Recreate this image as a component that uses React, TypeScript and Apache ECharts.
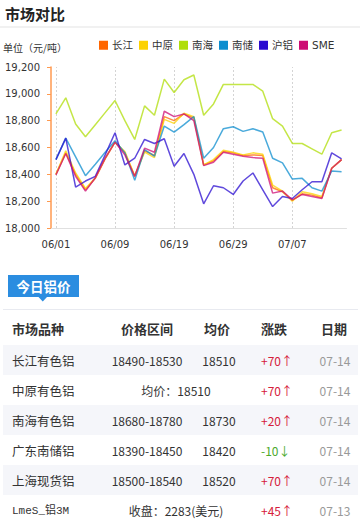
import React, { useEffect, useRef } from 'react';
import * as echarts from 'echarts';

const dates = [
  '06/01', '06/02', '06/03', '06/04', '06/05', '06/08', '06/09', '06/11', '06/12', '06/15',
  '06/16', '06/18', '06/19', '06/22', '06/23', '06/24', '06/26', '06/28', '06/29', '06/30',
  '07/01', '07/02', '07/03', '07/06', '07/07', '07/08', '07/09', '07/10', '07/13', '07/14',
];

const seriesNames = ['长江', '中原', '南海', '南储', '沪铝', 'SME'];
const seriesColors = ['#FF6600', '#FCD202', '#B0DE09', '#0D8ECF', '#2A0CD0', '#CD0D74'];

const changjiang = [18400, 18560, 18400, 18285, 18370, 18515, 18640, 18560, 18385, 18575, 18540, 18830, 18800, 18850, 18820, 18470, 18500, 18570, 18560, 18540, 18545, 18540, 18300, 18270, 18205, 18255, 18245, 18225, 18445, 18510];
const zhongyuan = [18400, 18575, 18410, 18295, 18375, 18520, 18640, 18570, 18390, 18565, 18525, 18810, 18780, 18855, 18830, 18470, 18510, 18580, 18565, 18545, 18560, 18550, 18320, 18275, 18200, 18270, 18255, 18235, 18445, 18510];
const nanhai = [18850, 18970, 18775, 18680, 18770, 18860, 18950, 18800, 18660, 18910, 18840, 19110, 19010, 19105, 19140, 18840, 18925, 19070, 19070, 19070, 19070, 19020, 18815, 18760, 18630, 18630, 18590, 18550, 18710, 18730];
const nanchu = [18510, 18670, 18530, 18390, 18475, 18565, 18650, 18560, 18355, 18585, 18535, 18760, 18715, 18770, 18830, 18520, 18600, 18740, 18755, 18720, 18740, 18715, 18520, 18485, 18365, 18370, 18300, 18275, 18425, 18420];
const hulv = [18510, 18670, 18305, 18350, 18385, 18545, 18710, 18470, 18520, 18660, 18630, 18665, 18460, 18555, 18400, 18180, 18315, 18300, 18250, 18350, 18410, 18285, 18160, 18235, 18220, 18285, 18345, 18345, 18560, 18515];
const sme = [18395, 18555, 18385, 18275, 18375, 18520, 18640, 18545, 18385, 18595, 18565, 18870, 18830, 18850, 18800, 18465, 18490, 18565, 18550, 18535, 18525, 18520, 18260, 18275, 18210, 18250, 18235, 18220, 18445, 18510];
const seriesValues = [changjiang, zhongyuan, nanhai, nanchu, hulv, sme];

const yMin = 18000;
const yMax = 19200;
const yStep = 200;

const tableHeader = ['市场品种', '价格区间', '均价', '涨跌', '日期'];
const rowNames = ['长江有色铝', '中原有色铝', '南海有色铝', '广东南储铝', '上海现货铝', 'LmeS_铝3M'];
const rowRanges = ['18490-18530', '', '18680-18780', '18390-18450', '18500-18540', ''];
const rowAvgs = ['18510', '', '18730', '18420', '18520', ''];
const rowMerged = ['', '均价：18510', '', '', '', '收盘：2283(美元)'];
const rowChanges = [70, 70, 20, -10, 70, 45];
const rowDates = ['07-14', '07-14', '07-14', '07-14', '07-14', '07-13'];

const CJK = '"Noto Sans CJK SC", sans-serif';

function buildGraphic() {
  const els: any[] = [];
  els.push({
    type: 'text', x: 5, y: 13,
    style: { text: '市场对比', font: `bold 15px ${CJK}`, fill: '#222', textAlign: 'left', textVerticalAlign: 'middle' },
  });
  els.push({ type: 'rect', shape: { x: 0, y: 26, width: 360, height: 2 }, style: { fill: '#f1f1f1' } });
  els.push({
    type: 'text', x: 3, y: 47,
    style: { text: '单位（元/吨）', font: `10px ${CJK}`, fill: '#333', textAlign: 'left', textVerticalAlign: 'middle' },
  });
  // tab
  els.push({ type: 'rect', shape: { x: 8, y: 275, width: 71, height: 22 }, style: { fill: '#2b8de0' } });
  els.push({ type: 'polygon', shape: { points: [[38.5, 297], [47, 297], [42.75, 301.5]] }, style: { fill: '#2b8de0' } });
  els.push({
    type: 'text', x: 43.5, y: 286,
    style: { text: '今日铝价', font: `bold 13.5px ${CJK}`, fill: '#fff', textAlign: 'center', textVerticalAlign: 'middle' },
  });
  els.push({ type: 'rect', shape: { x: 3, y: 309, width: 355, height: 1 }, style: { fill: '#e8eaf0' } });

  const headerY = 328;
  const colX = [12, 147, 217, 274, 334];
  tableHeader.forEach((h, i) => {
    els.push({
      type: 'text', x: colX[i], y: headerY,
      style: { text: h, font: `bold 13px ${CJK}`, fill: '#333', textAlign: i === 0 ? 'left' : 'center', textVerticalAlign: 'middle' },
    });
  });

  rowNames.forEach((name, r) => {
    const top = 345 + r * 30;
    const cy = top + 15.5;
    if (r % 2 === 0) {
      els.push({ type: 'rect', shape: { x: 3, y: top, width: 355, height: 30 }, style: { fill: '#f5f6fa' } });
    }
    const isLme = name.startsWith('Lme');
    els.push({
      type: 'text', x: 12, y: cy,
      style: {
        text: name,
        font: isLme ? `11px "Liberation Mono", ${CJK}` : `12.5px ${CJK}`,
        fill: '#333', textAlign: 'left', textVerticalAlign: 'middle',
      },
    });
    if (rowMerged[r]) {
      els.push({
        type: 'text', x: 176, y: cy,
        style: { text: rowMerged[r], font: `12px ${CJK}`, fill: '#333', textAlign: 'center', textVerticalAlign: 'middle' },
      });
    } else {
      els.push({
        type: 'text', x: 147, y: cy,
        style: { text: rowRanges[r], font: `12px ${CJK}`, fill: '#333', textAlign: 'center', textVerticalAlign: 'middle' },
      });
      els.push({
        type: 'text', x: 219, y: cy,
        style: { text: rowAvgs[r], font: `12px ${CJK}`, fill: '#333', textAlign: 'center', textVerticalAlign: 'middle' },
      });
    }
    const ch = rowChanges[r];
    const up = ch >= 0;
    els.push({
      type: 'text', x: 261, y: cy,
      style: {
        text: (up ? '+' + ch : String(ch)) + (up ? '↑' : '↓'),
        font: `12px ${CJK}`, fill: up ? '#d6203a' : '#4caa2c', textAlign: 'left', textVerticalAlign: 'middle',
      },
    });
    els.push({
      type: 'text', x: 335, y: cy,
      style: { text: rowDates[r], font: `12px ${CJK}`, fill: '#999', textAlign: 'center', textVerticalAlign: 'middle' },
    });
  });
  return els;
}

export default function App() {
  const ref = useRef<HTMLDivElement>(null);
  useEffect(() => {
    document.body.style.margin = '0';
    const chart = echarts.init(ref.current!, null, { renderer: 'svg' });
    chart.setOption({
      animation: false,
      backgroundColor: '#fff',
      color: seriesColors,
      legend: {
        left: 99, top: 40, padding: 0, itemWidth: 9, itemHeight: 9, itemGap: 6, icon: 'rect',
        textStyle: { fontSize: 10.5, color: '#333', fontFamily: '"DejaVu Sans", "Noto Sans CJK SC"', padding: [0, 0, 0, -1] },
        data: seriesNames.map((n, i) => ({ name: n, itemStyle: { color: seriesColors[i], opacity: 1 } })),
      },
      grid: { left: 51, top: 67, width: 295.5, height: 161, containLabel: false },
      xAxis: {
        type: 'category', data: dates, boundaryGap: true,
        axisLine: { lineStyle: { color: '#e0e0e0', width: 1 } },
        axisTick: { show: true, inside: true, length: 161, alignWithLabel: true, interval: 5, lineStyle: { color: '#d4d4d4', type: [2, 2] } },
        axisLabel: { interval: 5, margin: 11, fontSize: 10, color: '#333', fontFamily: '"DejaVu Sans"' },
        splitLine: { show: false },
      },
      yAxis: {
        type: 'value', min: yMin, max: yMax, interval: yStep,
        axisLine: { show: true, lineStyle: { color: '#ff9a50', width: 1.5 } },
        axisTick: { show: true, length: 4, lineStyle: { color: '#ff9a50', width: 1 } },
        axisLabel: { margin: 11, fontSize: 10, color: '#333', fontFamily: '"DejaVu Sans"', formatter: (v: number) => v.toLocaleString('en-US') },
        splitLine: { show: false },
      },
      series: seriesNames.map((n, i) => ({
        name: n, type: 'line', data: seriesValues[i], showSymbol: false, symbol: 'none',
        itemStyle: { color: seriesColors[i] },
        lineStyle: { width: 1.5, opacity: 0.75, color: seriesColors[i] },
      })),
      graphic: buildGraphic(),
    });
    return () => chart.dispose();
  }, []);
  return <div ref={ref} style={{ width: 360, height: 527 }} />;
}
